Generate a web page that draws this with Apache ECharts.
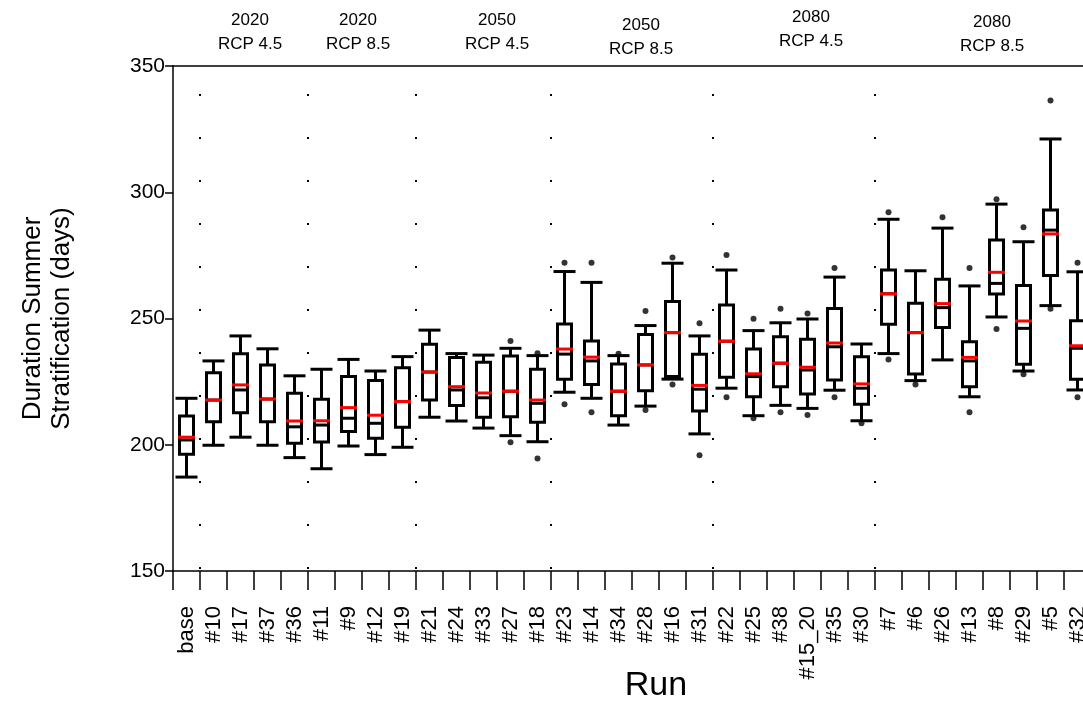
<!DOCTYPE html>
<html>
<head>
<meta charset="utf-8">
<script src="https://cdn.jsdelivr.net/npm/echarts@6/dist/echarts.min.js"></script>
<style>html,body{margin:0;padding:0;background:#fff}#c{width:1083px;height:704px}</style>
</head>
<body>
<div id="c"></div>
<script>
const categories = ['base','#10','#17','#37','#36','#11','#9','#12','#19','#21','#24','#33','#27','#18','#23','#14','#34','#28','#16','#31','#22','#25','#38','#15_20','#35','#30','#7','#6','#26','#13','#8','#29','#5','#32'];
const whiskerLow  = [187.2,199.8,203.0,199.8,194.9,190.5,199.5,196.1,199.0,210.9,209.4,206.6,203.6,201.2,220.8,218.4,207.8,215.3,226.0,204.3,222.4,211.5,215.6,214.4,221.6,209.5,236.1,225.4,233.6,219.0,250.6,229.2,255.1,221.7];
const quart1      = [196.2,209.1,212.7,209.1,200.6,201.1,205.2,202.6,206.9,217.7,215.5,210.9,211.1,208.9,225.9,223.9,211.5,221.4,227.0,213.4,226.7,219.0,223.0,220.1,225.6,216.0,247.7,228.0,246.4,223.0,259.7,231.9,267.0,225.9];
const medians     = [201.9,217.7,221.7,218.1,207.1,207.8,210.5,208.5,217.1,228.8,221.7,218.6,221.2,216.4,235.9,233.2,221.2,231.6,244.4,222.0,241.0,227.0,232.3,229.6,238.8,222.4,259.8,244.4,254.3,233.2,263.9,246.1,285.0,238.2];
const quart3      = [211.4,228.5,236.0,231.6,220.4,218.0,227.0,225.4,230.5,239.8,234.6,232.7,235.1,229.9,247.8,241.1,232.0,243.7,256.7,235.8,255.3,237.9,242.8,241.8,254.0,234.9,269.2,256.0,265.5,240.8,281.1,263.1,293.0,249.1];
const whiskerHigh = [218.4,233.2,243.1,238.0,227.3,229.9,233.8,229.2,234.9,245.4,236.1,235.5,238.2,235.3,268.6,264.3,235.3,247.2,271.9,243.1,269.2,245.2,248.3,249.8,266.4,239.9,289.3,268.9,285.8,262.9,295.3,280.4,321.1,268.5];
const means       = [203.0,217.7,223.7,218.1,209.4,209.5,214.7,211.7,217.1,228.8,223.0,220.5,221.2,217.7,237.9,234.7,221.2,231.6,244.4,223.5,241.0,228.1,232.3,230.7,240.3,224.1,259.8,244.4,255.9,234.6,268.3,249.0,283.5,239.2];
const outlierHigh = [null,null,null,null,null,null,null,null,null,null,null,null,241.1,236.2,272.1,272.1,236.0,253.0,274.2,248.1,275.1,249.9,253.9,252.0,270.0,null,292.1,null,290.1,270.0,297.2,286.1,336.3,272.1];
const outlierLow  = [null,null,null,null,null,null,null,null,null,null,null,null,201.0,194.6,216.0,212.9,null,213.8,223.9,195.8,218.8,210.5,212.9,211.8,218.8,208.5,233.8,223.9,null,212.9,245.8,227.9,253.9,218.8];
const separatorIndex = [1,5,9,14,20,26];
const groupLabels = ['2020\nRCP 4.5','2020\nRCP 8.5','2050\nRCP 4.5','2050\nRCP 8.5','2080\nRCP 4.5','2080\nRCP 8.5'];
const yTicks = {min:150, max:350, interval:50};
const yTitle = 'Duration Summer\nStratification (days)';
const xTitle = 'Run';

const groupPos = [[250,8],[358,8],[497,8],[641,13],[811,5],[992,10]];

const boxData = categories.map((c,i)=>[i, whiskerLow[i], quart1[i], medians[i], quart3[i], whiskerHigh[i], means[i]]);
const dots = [];
categories.forEach((c,i)=>{
  if (outlierHigh[i]!=null) dots.push([i, outlierHigh[i]]);
  if (outlierLow[i]!=null) dots.push([i, outlierLow[i]]);
});

function renderBox(params, api){
  const x = api.value(0);
  const lo = api.coord([x, api.value(1)]);
  const q1 = api.coord([x, api.value(2)]);
  const md = api.coord([x, api.value(3)]);
  const q3 = api.coord([x, api.value(4)]);
  const hi = api.coord([x, api.value(5)]);
  const mn = api.coord([x, api.value(6)]);
  const cx = lo[0];
  const bw = 14, cw = 22, rw = 17;
  const st = {stroke:'#000', lineWidth:3, fill:null};
  return {type:'group', children:[
    {type:'line', shape:{x1:cx,y1:hi[1],x2:cx,y2:q3[1]}, style:st},
    {type:'line', shape:{x1:cx,y1:q1[1],x2:cx,y2:lo[1]}, style:st},
    {type:'line', shape:{x1:cx-cw/2,y1:hi[1],x2:cx+cw/2,y2:hi[1]}, style:st},
    {type:'line', shape:{x1:cx-cw/2,y1:lo[1],x2:cx+cw/2,y2:lo[1]}, style:st},
    {type:'rect', shape:{x:cx-bw/2,y:q3[1],width:bw,height:q1[1]-q3[1]}, style:{stroke:'#000', lineWidth:3, fill:'#fff'}},
    {type:'line', shape:{x1:cx-bw/2,y1:md[1],x2:cx+bw/2,y2:md[1]}, style:st},
    {type:'line', shape:{x1:cx-rw/2,y1:mn[1],x2:cx+rw/2,y2:mn[1]}, style:{stroke:'#ff0000', lineWidth:3}}
  ]};
}

const chart = echarts.init(document.getElementById('c'), null, {renderer:'canvas'});
chart.setOption({
  animation:false,
  backgroundColor:'#fff',
  grid:{left:173, top:66, right:-8, bottom:133, containLabel:false, outerBoundsMode:'none'},
  xAxis:[{
    type:'category', data:categories, boundaryGap:true,
    name:xTitle, nameLocation:'middle', nameGap:98, nameMoveOverlap:false,
    nameTextStyle:{fontFamily:'Liberation Sans', fontSize:34, color:'#000', padding:[0,0,0,48]},
    axisLine:{lineStyle:{color:'#000', width:1.5}},
    axisTick:{show:true, interval:0, length:19, inside:false, lineStyle:{color:'#000', width:1.5}},
    axisLabel:{interval:0, rotate:90, margin:35, fontFamily:'Liberation Sans', fontSize:22, color:'#000'},
    splitLine:{show:true, interval:(i)=>separatorIndex.indexOf(i)>=0, lineStyle:{color:'#000', width:2, type:[2,41], dashOffset:15}}
  },{
    type:'category', data:categories, position:'top', boundaryGap:true,
    axisLine:{lineStyle:{color:'#000', width:1.5}},
    axisTick:{show:false}, axisLabel:{show:false}, splitLine:{show:false}
  }],
  yAxis:{
    type:'value', min:yTicks.min, max:yTicks.max, interval:yTicks.interval,
    name:yTitle, nameLocation:'middle', nameGap:97, nameRotate:90, nameMoveOverlap:false,
    nameTextStyle:{fontFamily:'Liberation Sans', fontSize:26, color:'#000', lineHeight:29},
    axisLine:{show:true, lineStyle:{color:'#000', width:1.5}},
    axisTick:{show:true, length:8, inside:false, lineStyle:{color:'#000', width:1.5}},
    axisLabel:{margin:8, fontFamily:'Liberation Sans', fontSize:21, color:'#000'},
    splitLine:{show:false}
  },
  graphic: groupLabels.map((t,i)=>({
    type:'text', x:groupPos[i][0], y:groupPos[i][1],
    style:{text:t, fontFamily:'Liberation Sans Narrow, Liberation Sans', fontSize:17, lineHeight:24, fill:'#000', align:'center', textAlign:'center'}
  })),
  series:[
    {type:'custom', renderItem:renderBox, data:boxData, encode:{x:0, y:[1,2,3,4,5,6]}, clip:false, z:3},
    {type:'scatter', data:dots, symbol:'circle', symbolSize:6, itemStyle:{color:'#000'}, z:4}
  ]
});
</script>
</body>
</html>
